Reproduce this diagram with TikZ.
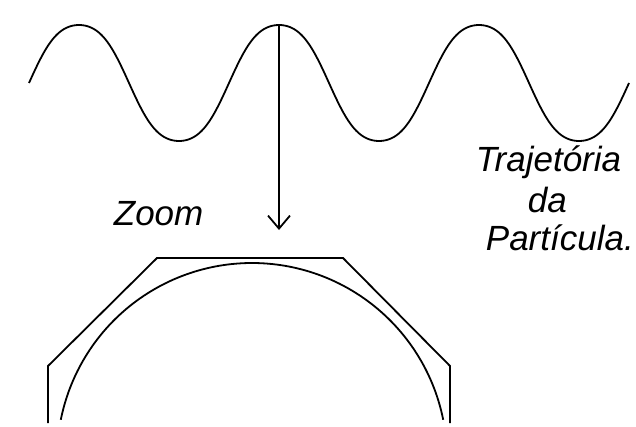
\documentclass[tikz,border=0pt]{standalone}
\usepackage{fontspec}
\setmainfont{Liberation Sans}
\usetikzlibrary{arrows.meta}

\begin{document}
\begin{tikzpicture}[x=0.5pt, y=-0.5pt, line width=0.9pt,
    rotulo/.style={anchor=base west, inner sep=0pt, font=\fontsize{17.5}{21}\selectfont\itshape}]
  \useasboundingbox (0,0) rectangle (636,427);
  % onda: 3 periodos, topos pouco achatados
  \coordinate (Pk) at (279,25);
  \coordinate (Ponta) at (279,230);
  \draw[domain=29:629, samples=300, smooth]
    plot (\x, {83-58*(sin((\x-29)*1.8)+0.05*sin((\x-29)*5.4))/0.95});
  \draw[-{Straight Barb[length=6.5pt, width=11pt]}] (Pk) -- (Ponta);

  % contorno poligonal
  \coordinate (A) at (48,423);
  \coordinate (B) at (48,366);
  \coordinate (C) at (157,258);
  \coordinate (D) at (343,258);
  \coordinate (E) at (450,366);
  \coordinate (F) at (450,423);
  \draw (A) -- (B) -- (C) -- (D) -- (E) -- (F);

  % arco
  \draw[domain=191.3:348.7, samples=90, smooth] plot ({252+195*cos(\x)}, {458+195*sin(\x)});

  \node[rotulo] (zoom) at (113,226) {Zoom};
  \node[rotulo] (traj) at (475,172) {Trajetória};
  \node[rotulo] (da)   at (527,213) {da};
  \node[rotulo] (part) at (485,250) {Partícula.};
\end{tikzpicture}
\end{document}
